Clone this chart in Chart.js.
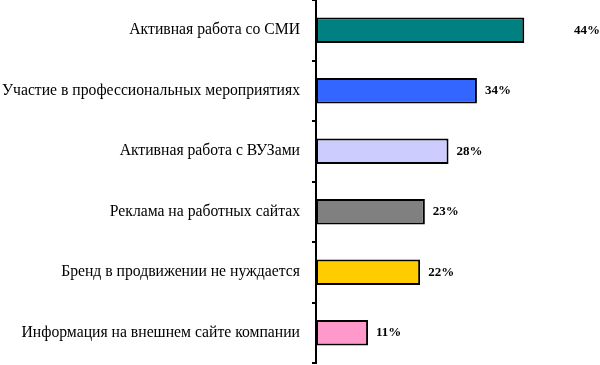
<!DOCTYPE html>
<html>
<head>
<meta charset="utf-8">
<script src="https://cdn.jsdelivr.net/npm/chart.js@4"></script>
<style>
  body { margin: 0; background: #fff; }
  #wrap { width: 600px; height: 365px; }
</style>
</head>
<body>
<div id="wrap"><canvas id="brandChart"></canvas></div>
<script>
// categories and values
const categories = [
  'Активная работа со СМИ',
  'Участие в профессиональных мероприятиях',
  'Активная работа с ВУЗами',
  'Реклама на работных сайтах',
  'Бренд в продвижении не нуждается',
  'Информация на внешнем сайте компании'
];
const shares = [44, 34, 28, 23, 22, 11];
const barColors = ['#008080', '#3366FF', '#CCCCFF', '#808080', '#FFCC00', '#FF99CC'];

// draws the percent next to each bar
const valueLabels = {
  id: 'valueLabels',
  afterDatasetsDraw(chart) {
    const ctx = chart.ctx;
    const meta = chart.getDatasetMeta(0);
    const maxVal = Math.max(...shares);
    ctx.save();
    ctx.font = 'bold 13px "Liberation Serif"';
    ctx.fillStyle = '#000';
    ctx.textBaseline = 'middle';
    meta.data.forEach((bar, i) => {
      const txt = shares[i] + '%';
      if (shares[i] === maxVal) {
        // the biggest one sits off at the right edge like in the original
        ctx.textAlign = 'right';
        ctx.fillText(txt, chart.chartArea.right, bar.y);
      } else {
        ctx.textAlign = 'left';
        ctx.fillText(txt, bar.x + 8, bar.y);
      }
    });
    ctx.restore();
  }
};

const chartCanvas = document.querySelector('#brandChart');

new Chart(chartCanvas, {
  type: 'bar',
  data: {
    labels: categories,
    datasets: [{
      data: shares,
      backgroundColor: barColors,
      borderColor: '#000',
      borderWidth: 2,
      borderSkipped: false,
      barPercentage: 0.42,
      categoryPercentage: 1
    }]
  },
  options: {
    indexAxis: 'y',
    responsive: true,
    maintainAspectRatio: false,
    animation: false,
    layout: { padding: { top: 0, bottom: 2, left: 0, right: 0 } },
    plugins: {
      legend: { display: false },
      tooltip: { enabled: false }
    },
    scales: {
      x: {
        display: false,
        min: 0,
        max: 60
      },
      y: {
        afterFit(scale) {
          scale.width = 316;
          scale.paddingTop = 0;
          scale.paddingBottom = 0;
        },
        border: { display: true, color: '#000', width: 2 },
        grid: {
          offset: true,
          drawOnChartArea: false,
          drawTicks: true,
          tickLength: 4,
          color: '#000',
          lineWidth: 2
        },
        ticks: {
          color: '#000',
          padding: 12,
          font: { family: '"Liberation Serif"', size: 15.7 }
        }
      }
    }
  },
  plugins: [valueLabels]
});
</script>
</body>
</html>
